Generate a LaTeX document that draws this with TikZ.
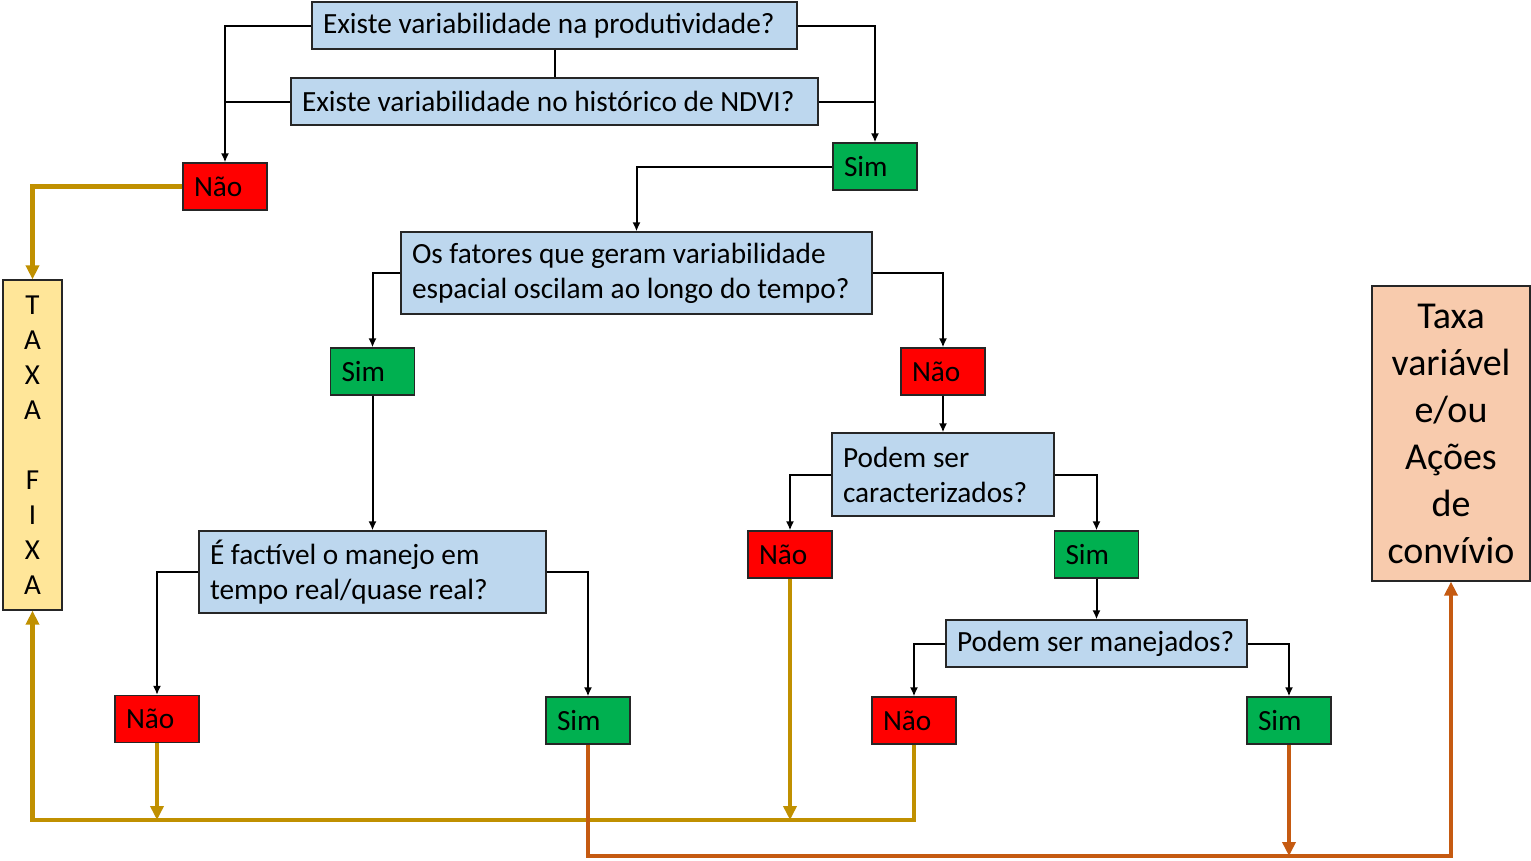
\documentclass[tikz,border=0pt]{standalone}
\usepackage{fontspec}
\setmainfont{Carlito}
\usetikzlibrary{arrows.meta}
\definecolor{qblue}{HTML}{BDD7EE}
\definecolor{nred}{HTML}{FF0000}
\definecolor{sgreen}{HTML}{00B050}
\definecolor{tyellow}{HTML}{FFE699}
\definecolor{rpeach}{HTML}{F8CBAD}
\definecolor{lgold}{HTML}{C09000}
\definecolor{lorange}{HTML}{C55A11}
\tikzset{
  qbox/.style={draw=black!85, line width=1.2pt, fill=qblue, inner xsep=11pt, inner ysep=0pt, align=flush left, font=\fontsize{29.3}{35}\selectfont},
  naobox/.style={draw=black!85, line width=1.2pt, fill=nred, inner xsep=11pt, inner ysep=0pt, align=flush left, text width=62pt, minimum height=47pt, font=\fontsize{29.3}{35}\selectfont},
  simbox/.style={naobox, fill=sgreen},
  ln/.style={line width=2pt, black},
  arr/.style={ln, -{Latex[length=9pt,width=8pt]}},
  gline/.style={line width=4.5pt, lgold},
  oline/.style={line width=4.5pt, lorange},
  garr/.style={-{Triangle[length=14pt,width=13pt]}}
}
\begin{document}
\begin{tikzpicture}[x=1pt,y=-1pt]
\useasboundingbox (0,0) rectangle (1531,860);
% question boxes
\node[qbox, text width=463pt, minimum height=47pt] (b1) at (554.5,25.5) {Existe variabilidade na produtividade?};
\node[qbox, text width=505pt, minimum height=47pt] (b2) at (554.5,101.5) {Existe variabilidade no histórico de NDVI?};
\node[qbox, text width=449pt, minimum height=82pt] (b3) at (636.5,273) {Os fatores que geram variabilidade\\espacial oscilam ao longo do tempo?};
\node[qbox, text width=325pt, minimum height=82pt] (b4) at (372.5,572) {É factível o manejo em\\tempo real/quase real?};
\node[qbox, text width=200pt, minimum height=83pt] (b5) at (943,474.5) {Podem ser\\caracterizados?};
\node[qbox, text width=279pt, minimum height=47pt] (b6) at (1096.5,643.5) {Podem ser manejados?};
% answer boxes
\node[naobox] (nao1) at (225,186.5) {Não};
\node[simbox] (sim1) at (875,166.5) {Sim};
\node[simbox] (sim2) at (372.5,371.5) {Sim};
\node[naobox] (nao2) at (943,371.5) {Não};
\node[naobox] (nao3) at (157,719) {Não};
\node[simbox] (sim3) at (588,720.5) {Sim};
\node[naobox] (nao4) at (790,554.5) {Não};
\node[simbox] (sim4) at (1096.5,554.5) {Sim};
\node[naobox] (nao5) at (914,720.5) {Não};
\node[simbox] (sim5) at (1289,720.5) {Sim};
% result boxes
\node[draw=black!85, line width=1.2pt, fill=tyellow, minimum width=59pt, minimum height=330pt, inner sep=0pt, align=center, font=\fontsize{29}{35}\selectfont] (taxa) at (32.5,445) {T\\A\\X\\A\\\mbox{}\\F\\I\\X\\A};
\node[draw=black!85, line width=1.2pt, fill=rpeach, minimum width=158pt, minimum height=295pt, inner sep=0pt, align=center, font=\fontsize{38}{47}\selectfont] (res) at (1451,433.5) {Taxa\\variável\\e/ou\\Ações\\de\\convívio};
% black connectors
\draw[ln] (b1.south) -- (b2.north);
\draw[arr] (b1.west) -| (nao1.north);
\draw[ln] (b2.west) -- (b2.west -| nao1.north);
\draw[arr] (b1.east) -| (sim1.north);
\draw[ln] (b2.east) -- (b2.east -| sim1.north);
\draw[arr] (sim1.west) -| (b3.north);
\draw[arr] (b3.west) -| (sim2.north);
\draw[arr] (b3.east) -| (nao2.north);
\draw[arr] (sim2.south) -- (b4.north);
\draw[arr] (b4.west) -| (nao3.north);
\draw[arr] (b4.east) -| (sim3.north);
\draw[arr] (nao2.south) -- (b5.north);
\draw[arr] (b5.west) -| (nao4.north);
\draw[arr] (b5.east) -| (sim4.north);
\draw[arr] (sim4.south) -- (b6.north);
\draw[arr] (b6.west) -| (nao5.north);
\draw[arr] (b6.east) -| (sim5.north);
% gold connectors
\coordinate (g1) at (32.5,820);
\coordinate (o1) at (1451,856);
\draw[gline, garr] (nao1.west) -| (taxa.north);
\draw[gline, garr] (nao5.south) |- (g1) -- (taxa.south);
\draw[gline, garr] (nao3.south) -- (nao3.south |- g1);
\draw[gline, garr] (nao4.south) -- (nao4.south |- g1);
% orange connectors
\draw[oline, garr] (sim3.south) |- (o1) -- (res.south);
\draw[oline, garr] (sim5.south) -- (sim5.south |- o1);
\end{tikzpicture}
\end{document}
